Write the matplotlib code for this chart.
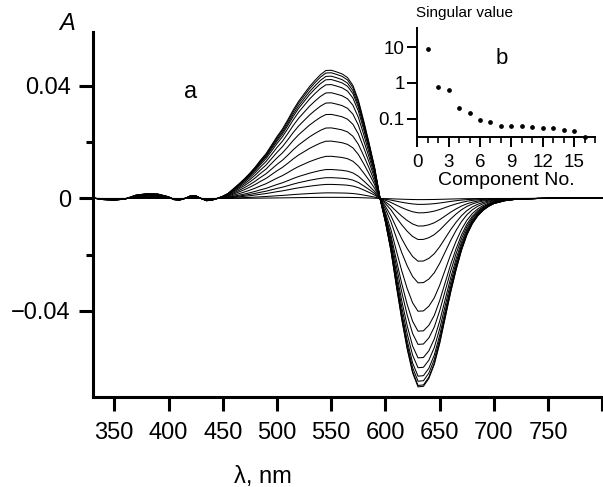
# Spectra set (a) with singular values inset (b)

import numpy as np
import matplotlib.pyplot as plt
from matplotlib.ticker import FixedLocator, MultipleLocator, NullLocator

plt.rcParams['font.family'] = ['Liberation Sans', 'DejaVu Sans']

# wavelength grid and the largest spectrum
wl = [330, 340, 350, 360, 370, 380, 390, 400, 405, 410, 415, 420, 425, 430, 435, 440, 445,
      450, 455, 460, 465, 470, 475, 480, 485, 490, 495, 500, 505, 510, 515, 520, 525, 530,
      535, 540, 545, 550, 555, 560, 565, 570, 575, 580, 585, 590, 595, 600, 605, 610, 615,
      620, 625, 630, 635, 640, 645, 650, 655, 660, 665, 670, 675, 680, 685, 690, 695, 700,
      710, 720, 740, 760, 780, 800]
a_max = [0.0002, -0.0004, -0.0006, -0.0002, 0.0012, 0.0017, 0.0016, 0.0006, -0.0004, -0.0006,
         0.0000, 0.0009, 0.0010, 0.0000, -0.0008, -0.0006, 0.0000,
         0.0008, 0.0018, 0.0035, 0.0052, 0.0070, 0.0090, 0.0112, 0.0137, 0.0160, 0.0190, 0.0220,
         0.0247, 0.0280, 0.0315, 0.0346, 0.0372, 0.0398, 0.0420, 0.0440, 0.0455, 0.0456, 0.0450,
         0.0443, 0.0430, 0.0402, 0.0350, 0.0275, 0.0195, 0.0110, 0.0000, -0.0085, -0.0185,
         -0.0310, -0.0430, -0.0535, -0.0620, -0.0670, -0.0668, -0.0640, -0.0590, -0.0515,
         -0.0425, -0.0335, -0.0255, -0.0185, -0.0130, -0.0090, -0.0062, -0.0042, -0.0028,
         -0.0018, -0.0008, -0.0003, 0.0000, 0.0002, 0.0002, 0.0001]

# peak (~548 nm) and trough (~632 nm) of each spectrum
pos_peak = [0.0456, 0.0447, 0.0435, 0.0423, 0.0405, 0.0376, 0.0340, 0.0299, 0.0251, 0.0204,
            0.0150, 0.0103, 0.0074, 0.0050, 0.0020, 0.0004]
neg_peak = [-0.0670, -0.0665, -0.0650, -0.0632, -0.0602, -0.0567, -0.0519, -0.0472, -0.0401,
            -0.0300, -0.0223, -0.0146, -0.0098, -0.0051, -0.0021, -0.0004]

# singular values (inset)
comp = list(range(1, 17))
sv = [8.8, 0.76, 0.62, 0.203, 0.147, 0.092, 0.079, 0.064, 0.064, 0.061, 0.059, 0.056,
      0.053, 0.047, 0.045, 0.030]

W, H = 603, 487
fig = plt.figure(figsize=(W / 100, H / 100), dpi=100)

# main axes
ax = fig.add_axes([93 / W, 1 - 397 / H, 1 - 93 / W, (397 - 32) / H])
wl_a = np.array(wl)
base = np.array(a_max)
pmax = max(a_max)
nmin = min(a_max)
for p, n in zip(pos_peak, neg_peak):
    y = np.where(base > 0, base * p / pmax, base * n / nmin)
    ax.plot(wl_a, y, color='black', lw=0.75)

ax.set_xlim(330.4, 800.5)
ax.set_ylim(-0.0706, 0.0592)
for s in ['top', 'right']:
    ax.spines[s].set_visible(False)
for s in ['left', 'bottom']:
    ax.spines[s].set_linewidth(2.2)
ax.set_xticks(range(350, 801, 50))
ax.set_xticklabels([str(v) for v in range(350, 751, 50)] + [''])
ax.set_yticks([-0.04, 0, 0.04])
ax.set_yticklabels(['\u22120.04', '0', '0.04'])
ax.yaxis.set_minor_locator(FixedLocator([-0.02, 0.02]))
ax.tick_params(which='major', direction='out', length=10, width=2.2, labelsize=17)
ax.tick_params(axis='x', which='major', pad=8)
ax.tick_params(axis='y', which='major', pad=6)
ax.tick_params(which='minor', direction='out', length=5, width=2.2)

fig.text(263 / W, 1 - 477 / H, '\u03bb, nm', fontsize=17, ha='center', va='center')
fig.text(67 / W, 1 - 23 / H, 'A', fontsize=17, style='italic', ha='center', va='center')
fig.text(191 / W, 1 - 92 / H, 'a', fontsize=17, ha='center', va='center')

# inset
ins = fig.add_axes([417.3 / W, 1 - 137.3 / H, (595 - 417.3) / W, (137.3 - 28) / H])
ins.patch.set_alpha(0)
ins.plot(comp, sv, 'o', color='black', ms=2.4, clip_on=False)
ins.set_yscale('log')
ins.set_xlim(0, 17)
ins.set_ylim(0.030, 34)
for s in ['top', 'right']:
    ins.spines[s].set_visible(False)
for s in ['left', 'bottom']:
    ins.spines[s].set_linewidth(1.4)
ins.set_xticks(range(0, 16, 3))
ins.xaxis.set_minor_locator(MultipleLocator(1))
ins.set_yticks([0.1, 1, 10])
ins.set_yticklabels(['0.1', '1', '10'])
ins.yaxis.set_minor_locator(NullLocator())
ins.tick_params(which='major', direction='out', length=7, width=1.4, labelsize=13.5, pad=2)
ins.tick_params(axis='x', which='major', pad=5)
ins.tick_params(which='minor', direction='out', length=4, width=1.2)
ins.set_xlabel('Component No.', fontsize=14, labelpad=1)
fig.text(465 / W, 1 - 13 / H, 'Singular value', fontsize=11, ha='center', va='center')
fig.text(502 / W, 1 - 58 / H, 'b', fontsize=16, ha='center', va='center')

fig.savefig('out.png', dpi=100)
